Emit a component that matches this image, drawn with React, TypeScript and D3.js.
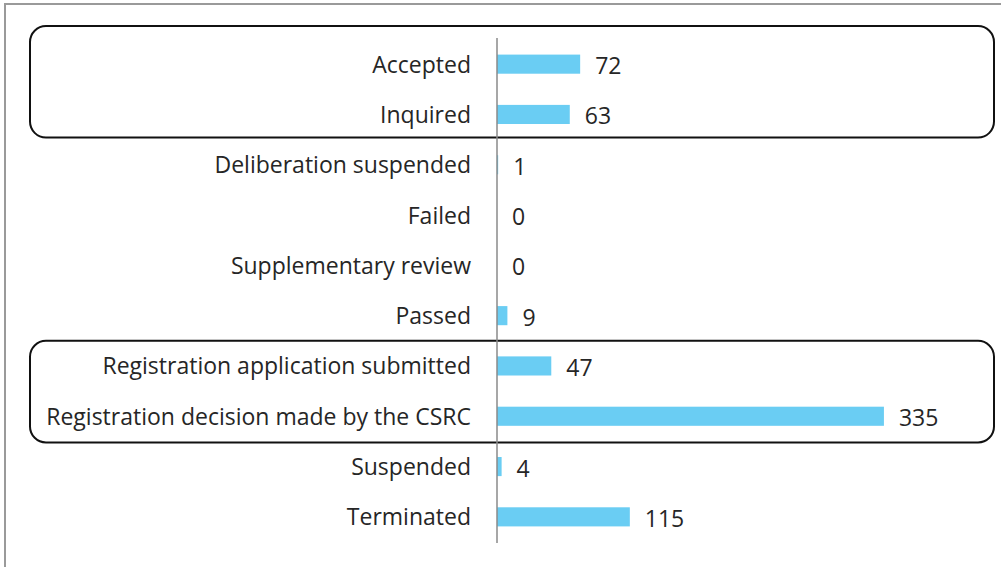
import React from "react";
import * as d3 from "d3";

// bar chart of registration statuses
const categories = [
  "Accepted",
  "Inquired",
  "Deliberation suspended",
  "Failed",
  "Supplementary review",
  "Passed",
  "Registration application submitted",
  "Registration decision made by the CSRC",
  "Suspended",
  "Terminated",
];
const counts = [72, 63, 1, 0, 0, 9, 47, 335, 4, 115];

// highlighted groups (rounded boxes)
const groupFirst = ["Accepted", "Registration application submitted"];
const groupLast = ["Inquired", "Registration decision made by the CSRC"];

const width = 1001,
  height = 567;
const axisX = 497;
const barColor = "#6ACDF3";
const font = "'Open Sans', sans-serif";

const App = () => {
  const data = categories.map((c, i) => ({ name: c, value: counts[i] }));

  const yScale = d3
    .scaleBand<string>()
    .domain(categories)
    .range([39, 542])
    .paddingInner(0.62)
    .paddingOuter(0.31);

  const xScale = d3.scaleLinear().domain([0, 400]).range([axisX, axisX + 462]);

  const step = yScale.step();
  const outer = yScale.paddingOuter() * step;
  // top / bottom tweaks for each box
  const boxTop = [-13, 0];
  const boxBottom = [-2, 1];

  return (
    <svg
      width={width}
      height={height}
      style={{ position: "absolute", left: 0, top: 0, background: "#fff" }}
    >
      <rect x={5} y={4} width={1100} height={700} fill="#fff" stroke="#9a9a9a" strokeWidth={2} />

      {groupFirst.map((g, i) => {
        const top = (yScale(g) as number) - outer + boxTop[i];
        const bottom = (yScale(groupLast[i]) as number) + yScale.bandwidth() + outer + boxBottom[i];
        return (
          <rect
            key={g}
            x={30}
            y={top}
            width={964}
            height={bottom - top}
            rx={16}
            ry={16}
            fill="none"
            stroke="#111"
            strokeWidth={2}
          />
        );
      })}

      {data.map((d) => (
        <rect
          key={d.name}
          x={xScale(0)}
          y={yScale(d.name)}
          width={xScale(d.value) - xScale(0)}
          height={yScale.bandwidth()}
          fill={barColor}
        />
      ))}

      <line x1={axisX} x2={axisX} y1={38} y2={543} stroke="#8a8a8a" strokeWidth={1.5} />

      {data.map((d) => {
        const cy = (yScale(d.name) as number) + yScale.bandwidth() / 2;
        return (
          <g key={d.name + "-t"} fontFamily={font} fontSize={23} fill="#262626">
            <text x={471} y={cy - 0.5} textAnchor="end" dominantBaseline="central">
              {d.name}
            </text>
            <text x={xScale(d.value) + 15} y={cy + 1} dominantBaseline="central">
              {d.value}
            </text>
          </g>
        );
      })}
    </svg>
  );
};

export default App;
